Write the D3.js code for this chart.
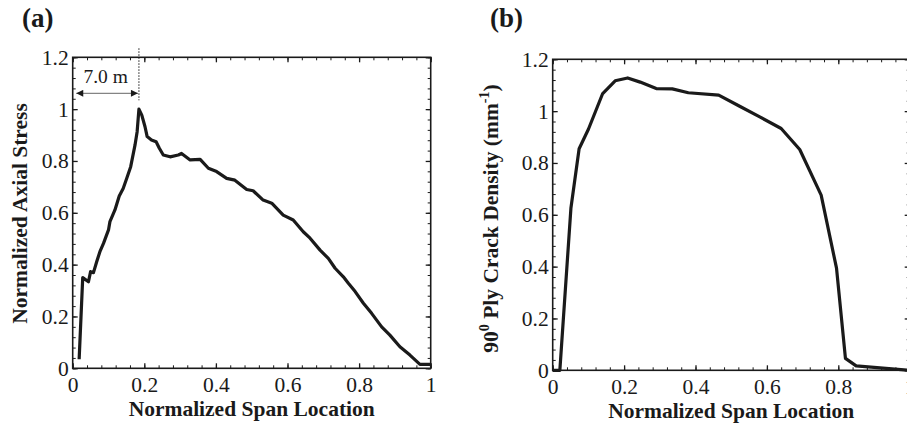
<!DOCTYPE html>
<html><head><meta charset="utf-8">
<script src="https://cdn.jsdelivr.net/npm/d3@7"></script>
<style>
body{margin:0;background:#fff}
text{font-family:"Liberation Serif","Times New Roman",serif;fill:#1a1a1a}
</style>
</head><body>
<svg id="c" width="907" height="429"></svg>
<script>
// ---- data ----
const stressX = [0.018,0.028,0.044,0.05,0.058,0.067,0.076,0.086,0.1,0.104,0.118,0.13,0.141,0.151,0.162,0.174,0.18,0.185,0.193,0.202,0.208,0.22,0.233,0.242,0.253,0.272,0.295,0.304,0.328,0.356,0.379,0.402,0.43,0.453,0.486,0.504,0.532,0.556,0.588,0.616,0.644,0.663,0.691,0.714,0.733,0.756,0.77,0.789,0.812,0.835,0.863,0.886,0.914,0.942,0.97,0.998];
const stressY = [0.035,0.35,0.334,0.373,0.369,0.411,0.45,0.482,0.534,0.566,0.611,0.665,0.694,0.733,0.778,0.861,0.913,1.0,0.977,0.932,0.894,0.881,0.874,0.849,0.823,0.816,0.823,0.829,0.804,0.806,0.772,0.759,0.733,0.726,0.69,0.685,0.649,0.637,0.591,0.572,0.527,0.502,0.456,0.424,0.386,0.353,0.328,0.296,0.251,0.212,0.16,0.128,0.083,0.051,0.015,0.015];
const crackX = [0,0.02,0.051,0.074,0.1,0.14,0.175,0.21,0.245,0.29,0.335,0.38,0.465,0.525,0.58,0.64,0.692,0.752,0.795,0.82,0.85,1.0];
const crackY = [0,0,0.625,0.855,0.93,1.068,1.117,1.128,1.112,1.087,1.086,1.071,1.062,1.018,0.978,0.933,0.852,0.676,0.394,0.046,0.017,0.0];
const xTicks = [0,0.2,0.4,0.6,0.8,1];
const yTicks = [0,0.2,0.4,0.6,0.8,1,1.2];
const spanMarker = 0.185;   // peak location (7.0 m)
const arrowStart = 0.01;
const annotationLabel = "7.0 m";

const svg = d3.select("#c");
const defs = svg.append("defs");
defs.append("marker").attr("id","ah").attr("viewBox","0 0 10 10").attr("refX",10).attr("refY",5)
  .attr("markerWidth",11).attr("markerHeight",7).attr("markerUnits","userSpaceOnUse").attr("orient","auto-start-reverse")
  .append("path").attr("d","M0,0L10,5L0,10z").attr("fill","#1a1a1a");

const fmt = d => d === 0 ? "0" : String(+d.toFixed(1));

function panel(opt){
  const g = svg.append("g").attr("transform",`translate(${opt.left},${opt.top})`);
  const w = opt.w, h = opt.h;
  const x = d3.scaleLinear().domain([0,1]).range([0,w]);
  const y = d3.scaleLinear().domain([0,1.2]).range([h,0]);
  const minorX = d3.range(0,1.0001,0.04);
  const minorY = d3.range(0,1.2001,0.04);
  const axesMin = [
    [d3.axisBottom(x), `translate(0,${h})`, minorX],
    [d3.axisTop(x), `translate(0,0)`, minorX],
    [d3.axisLeft(y), `translate(0,0)`, minorY],
    [d3.axisRight(y), `translate(${w},0)`, minorY]
  ];
  axesMin.forEach(([ax,tr,min])=>{
    const gm = g.append("g").attr("transform",tr)
      .call(ax.tickValues(min).tickSize(-3).tickSizeOuter(0).tickFormat(""));
    gm.select(".domain").remove();
    gm.selectAll("text").remove();
    gm.selectAll("line").attr("stroke","#1a1a1a").attr("stroke-width",1);
  });
  const axesMaj = [
    [d3.axisBottom(x).tickPadding(8), `translate(0,${h})`, xTicks, true],
    [d3.axisTop(x), `translate(0,0)`, xTicks, false],
    [d3.axisLeft(y).tickPadding(4), `translate(0,0)`, yTicks, true],
    [d3.axisRight(y), `translate(${w},0)`, yTicks, false]
  ];
  axesMaj.forEach(([ax,tr,maj,lab])=>{
    const gm = g.append("g").attr("transform",tr)
      .call(ax.tickValues(maj).tickSize(-5).tickSizeOuter(0).tickFormat(lab?fmt:""));
    gm.select(".domain").remove();
    gm.selectAll("line").attr("stroke","#1a1a1a").attr("stroke-width",1.3);
    gm.selectAll("text").attr("font-size",21.5).attr("font-family","Liberation Serif").attr("fill","#222");
    if(!lab) gm.selectAll("text").remove();
  });
  g.append("rect").attr("width",w).attr("height",h).attr("fill","none").attr("stroke","#1a1a1a").attr("stroke-width",1.6);
  const line = d3.line().x(d=>x(d[0])).y(d=>y(d[1]));
  g.append("path").datum(d3.zip(opt.xs,opt.ys)).attr("d",line).attr("fill","none")
    .attr("stroke","#1a1a1a").attr("stroke-width",3.2).attr("stroke-linejoin","round");
  g.append("text").attr("x",w/2).attr("y",h+48).attr("text-anchor","middle")
    .attr("font-weight","bold").attr("font-size",21.5).text("Normalized Span Location");
  svg.append("text").attr("x",opt.labelX).attr("y",27).attr("font-weight","bold").attr("font-size",27).text(opt.label);
  return {g,x,y};
}

const a = panel({left:72.7, top:57.3, w:358, h:311, xs:stressX, ys:stressY, label:"(a)", labelX:22});
a.g.append("text").attr("transform",`translate(-45.7,${213.5-57.3}) rotate(-90)`).attr("text-anchor","middle")
  .attr("font-weight","bold").attr("font-size",21.5).text("Normalized Axial Stress");
a.g.append("line").attr("x1",a.x(spanMarker)).attr("x2",a.x(spanMarker)).attr("y1",-9).attr("y2",43)
  .attr("stroke","#1a1a1a").attr("stroke-width",1).attr("stroke-dasharray","1.5,1.5");
a.g.append("line").attr("x1",a.x(arrowStart)).attr("x2",a.x(spanMarker)-1).attr("y1",36).attr("y2",36)
  .attr("stroke","#666").attr("stroke-width",1).attr("marker-start","url(#ah)").attr("marker-end","url(#ah)");
a.g.append("text").attr("x",(a.x(arrowStart)+a.x(spanMarker))/2 - 2).attr("y",26).attr("text-anchor","middle")
  .attr("font-size",19.5).text(annotationLabel);

const b = panel({left:552.7, top:59.3, w:357, h:311, xs:crackX, ys:crackY, label:"(b)", labelX:490});
const t = b.g.append("text").attr("transform",`translate(-54.4,${218.5-59.3}) rotate(-90)`).attr("text-anchor","middle")
  .attr("font-weight","bold").attr("font-size",21.5);
t.append("tspan").text("90");
t.append("tspan").attr("font-size",14).attr("dy",-9).text("0");
t.append("tspan").attr("dy",9).text(" Ply Crack Density (mm");
t.append("tspan").attr("font-size",14).attr("dy",-9).text("-1");
t.append("tspan").attr("dy",9).text(")");
</script>
</body></html>
